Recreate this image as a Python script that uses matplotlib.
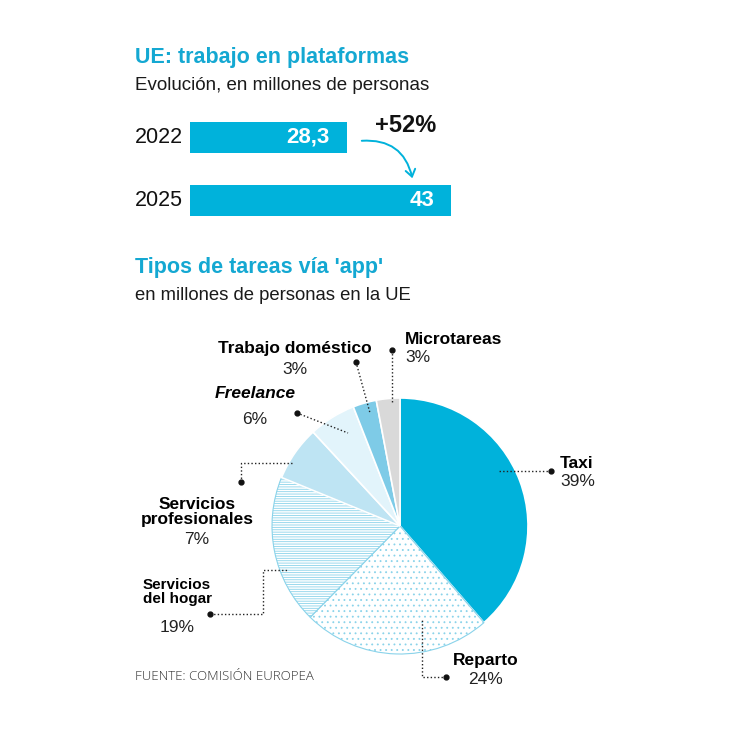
import matplotlib
matplotlib.use("Agg")
import matplotlib.pyplot as plt
from matplotlib.patches import FancyArrowPatch

plt.rcParams['font.family'] = ['Liberation Sans', 'DejaVu Sans']
plt.rcParams['hatch.linewidth'] = 0.6

# ---- data ----
years = ['2022', '2025']
workers = [28.3, 43]
worker_labels = ['28,3', '43']
growth_label = '+52%'

tasks = ['Taxi', 'Reparto', 'Servicios del hogar', 'Servicios profesionales',
         'Freelance', 'Trabajo doméstico', 'Microtareas']
shares = [39, 24, 19, 7, 6, 3, 3]

CYAN = '#00b2db'
TITLE = '#14a8d2'
wedge_colors = [CYAN, 'white', 'white', '#bee4f3', '#e2f4fb', '#7ecbe7', '#d9d9d9']
wedge_hatch = [None, '...', '-------', None, None, None, None]
wedge_edge = ['white', '#8ad3ea', '#8ad3ea', 'white', 'white', 'white', 'white']

W = H = 750
fig = plt.figure(figsize=(7.5, 7.5), dpi=100)

def rect(x0, y0, x1, y1):
    return [x0 / W, (H - y1) / H, (x1 - x0) / W, (y1 - y0) / H]

# overlay axes in pixel coordinates
ov = fig.add_axes([0, 0, 1, 1], zorder=5)
ov.set_xlim(0, W)
ov.set_ylim(H, 0)
ov.axis('off')
ov.patch.set_alpha(0)

# ---- bars ----
axb = fig.add_axes(rect(190, 106, 490, 232))
ypos = range(len(years))
axb.barh(list(ypos), workers, height=0.49, color=CYAN, left=0)
axb.set_xlim(6.25, 6.25 + 300 / (261 / (43 - 6.25)))
axb.set_ylim(1.5, -0.5)
axb.axis('off')
for i, (v, lab) in enumerate(zip(workers, worker_labels)):
    axb.annotate(lab, (v, i), xytext=(-12, 0), textcoords='offset points',
                 ha='right', va='center', color='white', fontsize=16, fontweight='bold')
    axb.annotate(years[i], (6.25, i), xytext=(-5, 0), textcoords='offset points',
                 ha='right', va='center', color='#111111', fontsize=15.5, annotation_clip=False)

ov.text(135, 58, 'UE: trabajo en plataformas', color=TITLE, fontsize=15.5,
        fontweight='bold', ha='left', va='center')
ov.text(135, 86, 'Evolución, en millones de personas', color='#1a1a1a', fontsize=13.5,
        ha='left', va='center')
ov.text(375, 125, growth_label, color='#111111', fontsize=17, fontweight='bold',
        ha='left', va='center')
arr = FancyArrowPatch((359, 141), (413, 181), connectionstyle='arc3,rad=-0.45',
                      arrowstyle='->,head_length=5,head_width=3.5', color=CYAN, lw=1.4)
ov.add_patch(arr)

ov.text(135, 268, "Tipos de tareas vía 'app'", color=TITLE, fontsize=15.5,
        fontweight='bold', ha='left', va='center')
ov.text(135, 296, 'en millones de personas en la UE', color='#1a1a1a', fontsize=13.3,
        ha='left', va='center')

# ---- pie ----
axp = fig.add_axes(rect(272, 398, 528, 654))
wedges, _ = axp.pie(shares, startangle=90, counterclock=False, colors=wedge_colors,
                    radius=1.0, wedgeprops=dict(linewidth=1.2))
for w, hc, ec in zip(wedges, wedge_hatch, wedge_edge):
    w.set_edgecolor(ec)
    if hc:
        w.set_hatch(hc)
        w.set_linewidth(0.8)
axp.set_xlim(-1, 1)
axp.set_ylim(-1, 1)
axp.set_aspect('equal')

# ---- labels with leaders ----
def leader(pts, dot):
    xs, ys = zip(*pts)
    ov.plot(xs, ys, color='#222222', lw=1, ls=(0, (1, 1.6)))
    ov.plot([dot[0]], [dot[1]], 'o', color='#111111', ms=3.5)

LFS = 12.5
PC = '#222222'
# Microtareas
ov.text(405, 339, 'Microtareas', fontsize=LFS, fontweight='bold', ha='left', va='center')
ov.text(405, 357, f'{shares[6]}%', fontsize=LFS, ha='left', va='center', color=PC)
leader([(392, 350), (392, 404)], (392, 350))
# Trabajo doméstico
ov.text(295, 348, 'Trabajo doméstico', fontsize=LFS, fontweight='bold', ha='center', va='center')
ov.text(295, 369, f'{shares[5]}%', fontsize=LFS, ha='center', va='center', color=PC)
leader([(356, 362), (370, 413)], (356, 362))
# Freelance
ov.text(255, 394, 'Freelance', fontsize=LFS, fontweight='bold', style='italic',
        ha='center', va='center')
ov.text(255, 419, f'{shares[4]}%', fontsize=LFS, ha='center', va='center', color=PC)
leader([(297, 413), (348, 433)], (297, 413))
# Servicios profesionales
ov.text(197, 512, 'Servicios\nprofesionales', fontsize=LFS, fontweight='bold',
        ha='center', va='center', linespacing=1.0)
ov.text(197, 540, f'{shares[3]}%', fontsize=LFS, ha='center', va='center', color=PC)
leader([(241, 482), (241, 463), (292, 463)], (241, 482))
# Servicios del hogar
ov.text(143, 592, 'Servicios\ndel hogar', fontsize=11, fontweight='bold',
        ha='left', va='center', linespacing=1.0)
ov.text(160, 627, f'{shares[2]}%', fontsize=LFS, ha='left', va='center', color=PC)
leader([(210, 614), (263, 614), (263, 570), (288, 570)], (210, 614))
# Taxi
ov.text(560, 463, 'Taxi', fontsize=LFS, fontweight='bold', ha='left', va='center')
ov.text(560, 481, f'{shares[0]}%', fontsize=LFS, ha='left', va='center', color=PC)
leader([(551, 471), (498, 471)], (551, 471))
# Reparto
ov.text(453, 661, 'Reparto', fontsize=LFS, fontweight='bold', ha='left', va='center')
ov.text(468, 680, f'{shares[1]}%', fontsize=LFS, ha='left', va='center', color=PC)
leader([(446, 677), (422, 677), (422, 620)], (446, 677))

ov.text(135, 677, 'FUENTE: COMISIÓN EUROPEA', fontsize=9.5, color='#333333',
        ha='left', va='center', family=['Open Sans', 'DejaVu Sans'], fontweight='light')

fig.savefig('out.png', dpi=100, facecolor='white')
